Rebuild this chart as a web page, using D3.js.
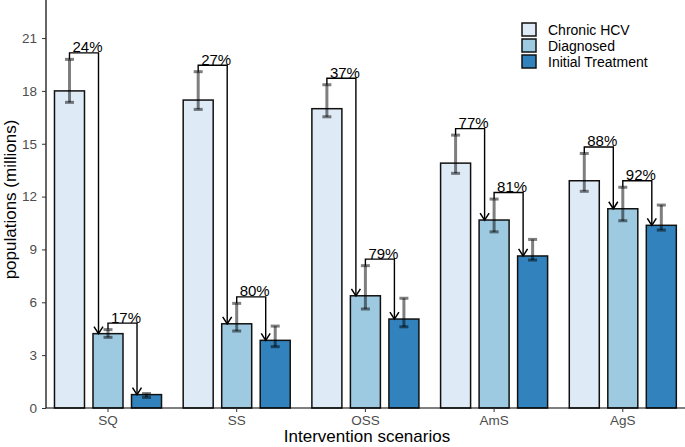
<!DOCTYPE html>
<html>
<head>
<meta charset="utf-8">
<script src="https://cdn.jsdelivr.net/npm/d3@7"></script>
<style>
  body { margin: 0; background: #fff; }
  svg { display: block; font-family: "Liberation Sans", Arial, sans-serif; }
</style>
</head>
<body>
<svg width="685" height="447"></svg>
<script>
var svg = d3.select("svg");

// data
var scenarios = ["SQ", "SS", "OSS", "AmS", "AgS"];
var series = ["Chronic HCV", "Diagnosed", "Initial Treatment"];
var colors = ["#deebf7", "#9ecae1", "#3182bd"];

var chronic     = [18.0, 17.48, 16.99, 13.9, 12.9];
var chronicLo   = [17.35, 16.95, 16.53, 13.32, 12.3];
var chronicHi   = [19.79, 19.09, 18.35, 15.49, 14.45];
var diagnosed   = [4.22, 4.78, 6.37, 10.67, 11.31];
var diagnosedLo = [4.01, 4.37, 5.62, 10.0, 10.63];
var diagnosedHi = [4.45, 5.94, 8.08, 11.86, 12.53];
var treated     = [0.76, 3.84, 5.05, 8.63, 10.37];
var treatedLo   = [0.6, 3.48, 4.61, 8.4, 10.1];
var treatedHi   = [0.82, 4.65, 6.23, 9.57, 11.52];

// percent labels on the arrows (chronic -> diagnosed, diagnosed -> treated)
var pctDiag  = ["24%", "27%", "37%", "77%", "88%"];
var pctTreat = ["17%", "80%", "79%", "81%", "92%"];

var yTicks = [0, 3, 6, 9, 12, 15, 18, 21];

var vals = [chronic, diagnosed, treated];
var los = [chronicLo, diagnosedLo, treatedLo];
var his = [chronicHi, diagnosedHi, treatedHi];

var rows = [];
scenarios.forEach(function(s, i) {
  series.forEach(function(k, j) {
    rows.push({scen: s, key: k, idx: j, v: vals[j][i], lo: los[j][i], hi: his[j][i]});
  });
});

var left = 46, bottom = 408;
var step = 128.7;

var x = d3.scaleBand().domain(scenarios)
  .range([108 - step / 2, 108 - step / 2 + step * scenarios.length]);
var xIn = d3.scaleBand().domain(series)
  .range([-57.75, 57.75]).paddingInner(0.221).paddingOuter(0.11);
var y = d3.scaleLinear().domain([0, 23.16]).range([bottom, 0]);
var color = d3.scaleOrdinal().domain(series).range(colors);

function cx(d) { return x(d.scen) + x.bandwidth() / 2 + xIn(d.key) + xIn.bandwidth() / 2; }

// bars
svg.append("g").selectAll("rect")
  .data(rows).enter().append("rect")
  .attr("x", function(d) { return cx(d) - xIn.bandwidth() / 2; })
  .attr("y", function(d) { return y(d.v); })
  .attr("width", xIn.bandwidth())
  .attr("height", function(d) { return y(0) - y(d.v); })
  .attr("fill", function(d) { return color(d.key); })
  .attr("stroke", "#111")
  .attr("stroke-width", 1.5);

// error bars
var eb = svg.append("g").attr("stroke", "#000").attr("stroke-opacity", 0.5).attr("stroke-width", 3);
rows.forEach(function(d) {
  var c = cx(d);
  eb.append("line").attr("x1", c).attr("x2", c).attr("y1", y(d.lo)).attr("y2", y(d.hi));
  eb.append("line").attr("x1", c - 4.5).attr("x2", c + 4.5).attr("y1", y(d.lo)).attr("y2", y(d.lo));
  eb.append("line").attr("x1", c - 4.5).attr("x2", c + 4.5).attr("y1", y(d.hi)).attr("y2", y(d.hi));
});

// arrows
var arr = svg.append("g");
function arrow(scen, from, to, lab) {
  var a = rows.find(function(r) { return r.scen == scen && r.idx == from; });
  var b = rows.find(function(r) { return r.scen == scen && r.idx == to; });
  var x1 = cx(a), x2 = cx(b) - 9.5;
  var yb = y(a.hi) - 6.5;
  var yt = y(b.v);
  arr.append("path")
    .attr("d", "M" + x1 + "," + y(a.hi) + "V" + yb + "H" + x2 + "V" + yt)
    .attr("fill", "none").attr("stroke", "#000").attr("stroke-width", 1.4);
  arr.append("path")
    .attr("d", "M" + (x2 - 4.5) + "," + (yt - 7) + "L" + x2 + "," + yt + "L" + (x2 + 4.5) + "," + (yt - 7))
    .attr("fill", "none").attr("stroke", "#000").attr("stroke-width", 1.5);
  arr.append("text")
    .attr("x", x1 + 3).attr("y", yb - 0.5)
    .attr("font-size", 15).attr("fill", "#000")
    .text(lab);
}
scenarios.forEach(function(s, i) {
  arrow(s, 0, 1, pctDiag[i]);
  arrow(s, 1, 2, pctTreat[i]);
});

// y axis
var gy = svg.append("g").attr("transform", "translate(" + left + ",0)")
  .call(d3.axisLeft(y).tickValues(yTicks).tickSize(4).tickPadding(5));
gy.select(".domain").attr("d", "M0,0V" + bottom).attr("stroke", "#000").attr("stroke-width", 1.2);
gy.selectAll(".tick line").attr("stroke", "#333");
gy.selectAll(".tick text").attr("font-size", 13.5).attr("fill", "#4d4d4d")
  .attr("font-family", "Liberation Sans, Arial, sans-serif");

// x axis
var gx = svg.append("g").attr("transform", "translate(0," + bottom + ")")
  .call(d3.axisBottom(x).tickSize(4).tickPadding(3));
gx.select(".domain").attr("d", "M" + left + ",0H685").attr("stroke", "#000").attr("stroke-width", 1.2);
gx.selectAll(".tick line").attr("stroke", "#333");
gx.selectAll(".tick text").attr("font-size", 13.5).attr("fill", "#4d4d4d")
  .attr("font-family", "Liberation Sans, Arial, sans-serif");

// titles
svg.append("text").attr("x", 367).attr("y", 442).attr("text-anchor", "middle")
  .attr("font-size", 17).attr("fill", "#000").text("Intervention scenarios");
svg.append("text").attr("transform", "translate(16,199.5) rotate(-90)").attr("text-anchor", "middle")
  .attr("font-size", 17).attr("fill", "#000").text("populations (millions)");

// legend
var lg = svg.append("g").attr("transform", "translate(522,22)");
series.forEach(function(k, j) {
  lg.append("rect").attr("x", 0).attr("y", j * 16 + 1).attr("width", 14).attr("height", 13)
    .attr("fill", color(k)).attr("stroke", "#111").attr("stroke-width", 1.5);
  lg.append("text").attr("x", 26).attr("y", j * 16 + 12.5)
    .attr("font-size", 14).attr("fill", "#000").text(k);
});
</script>
</body>
</html>
